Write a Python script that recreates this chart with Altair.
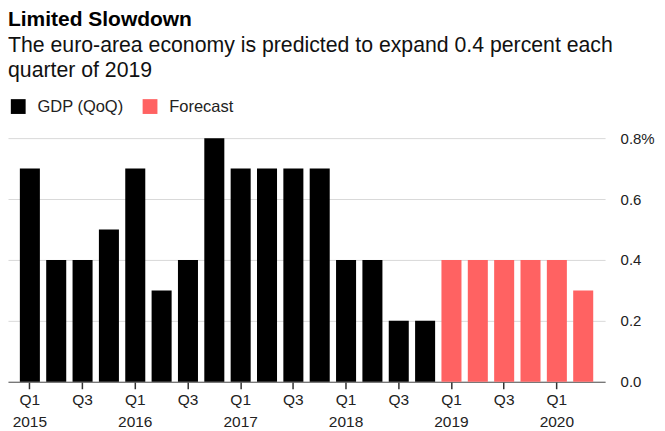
import altair as alt
import pandas as pd

quarters = ["Q1 2015", "Q2 2015", "Q3 2015", "Q4 2015",
            "Q1 2016", "Q2 2016", "Q3 2016", "Q4 2016",
            "Q1 2017", "Q2 2017", "Q3 2017", "Q4 2017",
            "Q1 2018", "Q2 2018", "Q3 2018", "Q4 2018",
            "Q1 2019", "Q2 2019", "Q3 2019", "Q4 2019",
            "Q1 2020", "Q2 2020"]
values = [0.7, 0.4, 0.4, 0.5, 0.7, 0.3, 0.4, 0.8,
          0.7, 0.7, 0.7, 0.7, 0.4, 0.4, 0.2, 0.2,
          0.4, 0.4, 0.4, 0.4, 0.4, 0.3]
series = ["GDP (QoQ)"] * 16 + ["Forecast"] * 6
y_ticks = [0.0, 0.2, 0.4, 0.6, 0.8]
x_ticks = [q for q in quarters if q.startswith("Q1") or q.startswith("Q3")]

df = pd.DataFrame({"quarter": quarters, "value": values, "series": series})

FONT = "Liberation Sans"

xscale = alt.Scale(paddingInner=0.24, paddingOuter=0.45)

bars = alt.Chart(df).mark_bar().encode(
    x=alt.X("quarter:N", sort=quarters, title=None, scale=xscale,
            axis=alt.Axis(values=x_ticks, labelAngle=0, ticks=True, tickSize=7, tickWidth=1.5,
                          tickColor="#333333", tickOpacity=1,
                          domainColor="#555", domainWidth=1.2,
                          labelFontSize=15.5, labelColor="#222",
                          labelPadding=4, labelLineHeight=22, labelFont=FONT,
                          labelExpr="substring(datum.label,0,2)=='Q3' ? 'Q3' : split(datum.label,' ')")),
    y=alt.Y("value:Q", title=None,
            scale=alt.Scale(domain=[0, 0.8], nice=False),
            axis=alt.Axis(orient="right", values=y_ticks, domain=False, ticks=False,
                          labelPadding=15, labelFontSize=15, labelColor="#222", labelFont=FONT,
                          gridColor="#d9d9d9", labelAlign="left",
                          labelExpr="datum.value==0.8 ? '0.8%' : format(datum.value,'.1f')")),
    color=alt.Color("series:N", sort=["GDP (QoQ)", "Forecast"],
                    scale=alt.Scale(domain=["GDP (QoQ)", "Forecast"], range=["#000000", "#ff6262"]),
                    legend=alt.Legend(title=None, orient="none", legendX=2, legendY=-40,
                                      direction="horizontal", symbolType="square", symbolSize=220,
                                      symbolStrokeWidth=0, labelFontSize=16.5, labelFont=FONT,
                                      labelColor="#222", labelOffset=11, columnPadding=18, padding=0)),
)

chart = bars.properties(
    width=598, height=244,
    padding={"left": 0, "top": 0, "right": 2, "bottom": 0},
    title=alt.TitleParams(
        text="Limited Slowdown",
        subtitle=["The euro-area economy is predicted to expand 0.4 percent each", "quarter of 2019"],
        anchor="start", font=FONT, fontSize=21, fontWeight="bold", color="#000",
        subtitleFont=FONT, subtitleFontSize=21.3, subtitleColor="#111",
        subtitleLineHeight=25, subtitlePadding=5, offset=17, frame="group"),
).configure_view(stroke=None).configure_axisX(ticks=True, tickSize=7, tickColor="#333333", tickWidth=1.5)

chart.save("out.html", embed_options={"renderer": "svg", "actions": False})
